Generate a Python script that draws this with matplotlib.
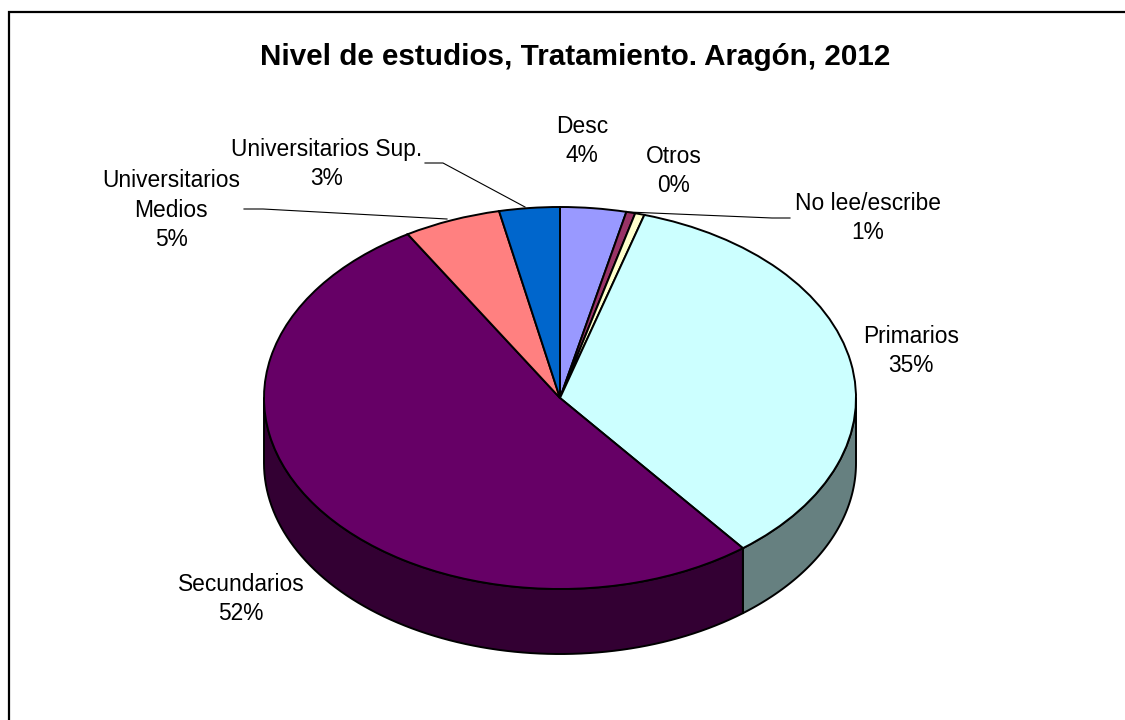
import matplotlib
matplotlib.use('Agg')
import matplotlib.pyplot as plt
import numpy as np

categorias = ['Desc', 'Otros', 'No lee/escribe', 'Primarios', 'Secundarios',
              'Universitarios\nMedios', 'Universitarios Sup.']
valores = [3.6, 0.49, 0.51, 34.8, 52.0, 5.3, 3.3]
colores = ['#9999FF', '#993366', '#FFFFCC', '#CCFFFF', '#660066', '#FF8080', '#0066CC']
colores_lado = ['#4D4D80', '#4D1A33', '#808066', '#668080', '#330033', '#804040', '#003366']
# centro de cada etiqueta en pixeles
pos_etiquetas = [(582, 141), (674, 171), (868, 218), (911, 351), (241, 599), (171, 210), (327, 164)]

plt.rcParams['font.family'] = ['Liberation Sans', 'DejaVu Sans']

W, H = 1125, 720
cx, cy, rx, ry, fondo = 560, 398, 296, 191, 65

fig = plt.figure(figsize=(W / 100, H / 100), dpi=100)
ax = fig.add_axes([0, 0, 1, 1])

ax.pie(valores, colors=colores, startangle=90, counterclock=False, radius=1,
       wedgeprops={'edgecolor': 'black', 'linewidth': 1.4})
ax.set_aspect('auto')
ax.set_xlim((0 - cx) / rx, (W - cx) / rx)
ax.set_ylim((cy - H) / ry, cy / ry)

# pared lateral del queso, solo la mitad de delante
prof = fondo / ry
fin = 90 - np.cumsum(valores) * 360 / sum(valores)
ini = np.r_[90, fin[:-1]]
for a, b, c in zip(ini, fin, colores_lado):
    if a <= -180 or b >= 0:
        continue
    t = np.radians(np.linspace(max(b, -180), min(a, 0), 80))
    xs = np.r_[np.cos(t), np.cos(t[::-1])]
    ys = np.r_[np.sin(t), np.sin(t[::-1]) - prof]
    ax.fill(xs, ys, facecolor=c, edgecolor='black', linewidth=1.4, zorder=0.5, joinstyle='round')


def px(x, y):
    return (x - cx) / rx, (cy - y) / ry


# lineas guia
guias = [[(425, 163), (443, 163), (525, 207)],
         [(244, 209), (263, 209), (447, 219)],
         [(628, 212), (772, 218), (790, 218)]]
for g in guias:
    p = np.array([px(*q) for q in g])
    ax.plot(p[:, 0], p[:, 1], color='black', lw=0.8, zorder=5)

for nombre, v, (x, y) in zip(categorias, valores, pos_etiquetas):
    fig.text(x / W, 1 - y / H, '%s\n%d%%' % (nombre, round(v)), ha='center', va='center',
             fontsize=16.4, linespacing=1.38, color='black')

fig.text(575 / W, 1 - 57 / H, 'Nivel de estudios, Tratamiento. Aragón, 2012', ha='center', va='center',
         fontsize=21.3, fontweight='bold', color='black')

# marco: solo arriba e izquierda
xb, yb = px(8.5, 11.5)
ax.plot([xb, xb, (W - cx) / rx], [(cy - H) / ry, yb, yb], color='black', lw=1.6, zorder=5,
        solid_joinstyle='miter')

fig.savefig('out.png', dpi=100)
